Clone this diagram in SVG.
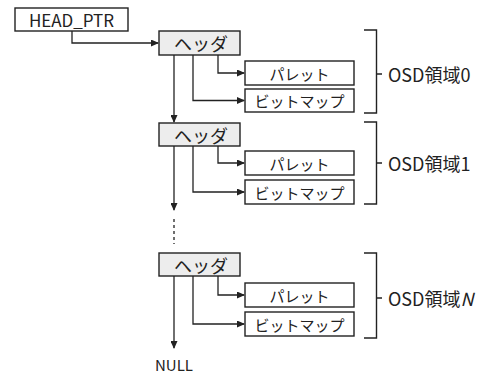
<svg xmlns="http://www.w3.org/2000/svg" width="481" height="376" viewBox="0 0 481 376">
<style>
.box{fill:#fff;stroke:#222;stroke-width:1.4}
.hdr{fill:#ededed;stroke:#222;stroke-width:1.4}
.ln{fill:none;stroke:#222;stroke-width:1.3}
.dot{fill:none;stroke:#222;stroke-width:1.3;stroke-dasharray:3 3}
.br{fill:none;stroke:#222;stroke-width:1.4}
text{font-family:"Noto Sans CJK JP","Noto Sans",sans-serif;fill:#222;dominant-baseline:central}
.t17{font-size:17px}
.t18{font-size:18px}
.t15{font-size:15px}
.c{text-anchor:middle}
</style>
<defs>
<marker id="ah" markerWidth="8" markerHeight="7" refX="7" refY="3.5" orient="auto" markerUnits="userSpaceOnUse">
<path d="M0,0 L8,3.5 L0,7 z" fill="#222"/>
</marker>
</defs>
<rect width="481" height="376" fill="#fff"/>

<g id="head_ptr"><rect class="box" x="15" y="8" width="113" height="23"/><text class="t17 c" x="71.5" y="19.5">HEAD_PTR</text></g>

<g id="header0"><rect class="hdr" x="159" y="31" width="81" height="24"/><text class="t18 c" x="201" y="43">ヘッダ</text></g>
<g id="palette0"><rect class="box" x="245" y="61" width="109" height="24"/><text class="t15 c" x="299.5" y="73">パレット</text></g>
<g id="bitmap0"><rect class="box" x="245" y="89" width="109" height="23"/><text class="t15 c" x="299.5" y="100.5">ビットマップ</text></g>
<g id="region0"><path class="br" d="M364,30 H376.5 V113 H364 M376.5,74 H382"/><text class="t18" x="388" y="74">OSD領域0</text></g>

<g id="header1"><rect class="hdr" x="159" y="123" width="81" height="23"/><text class="t18 c" x="201" y="134.5">ヘッダ</text></g>
<g id="palette1"><rect class="box" x="245" y="151" width="109" height="24"/><text class="t15 c" x="299.5" y="163">パレット</text></g>
<g id="bitmap1"><rect class="box" x="245" y="180" width="109" height="24"/><text class="t15 c" x="299.5" y="192">ビットマップ</text></g>
<g id="region1"><path class="br" d="M364,122 H376.5 V204 H364 M376.5,163 H382"/><text class="t18" x="388" y="163">OSD領域1</text></g>

<g id="headerN"><rect class="hdr" x="159" y="253" width="81" height="23"/><text class="t18 c" x="201" y="264.5">ヘッダ</text></g>
<g id="paletteN"><rect class="box" x="245" y="283" width="109" height="24"/><text class="t15 c" x="299.5" y="295">パレット</text></g>
<g id="bitmapN"><rect class="box" x="245" y="312" width="109" height="24"/><text class="t15 c" x="299.5" y="324">ビットマップ</text></g>
<g id="regionN"><path class="br" d="M364,253 H376.5 V338 H364 M376.5,298 H382"/><text class="t18" x="388" y="298">OSD領域<tspan font-style="italic">N</tspan></text></g>

<g id="null"><text class="t15 c" x="174" y="364">NULL</text></g>

<g id="connectors">
<path class="ln" d="M72,31 V43 H158" marker-end="url(#ah)"/>
<path class="ln" d="M174,55 V122" marker-end="url(#ah)"/>
<path class="ln" d="M218,55 V73 H244" marker-end="url(#ah)"/>
<path class="ln" d="M193,55 V100.5 H244" marker-end="url(#ah)"/>
<path class="ln" d="M174,146 V210" marker-end="url(#ah)"/>
<path class="dot" d="M174,219 V244"/>
<path class="ln" d="M218,146 V163 H244" marker-end="url(#ah)"/>
<path class="ln" d="M193,146 V192 H244" marker-end="url(#ah)"/>
<path class="ln" d="M174,276 V348" marker-end="url(#ah)"/>
<path class="ln" d="M218,276 V295 H244" marker-end="url(#ah)"/>
<path class="ln" d="M193,276 V324 H244" marker-end="url(#ah)"/>
</g>
</svg>
